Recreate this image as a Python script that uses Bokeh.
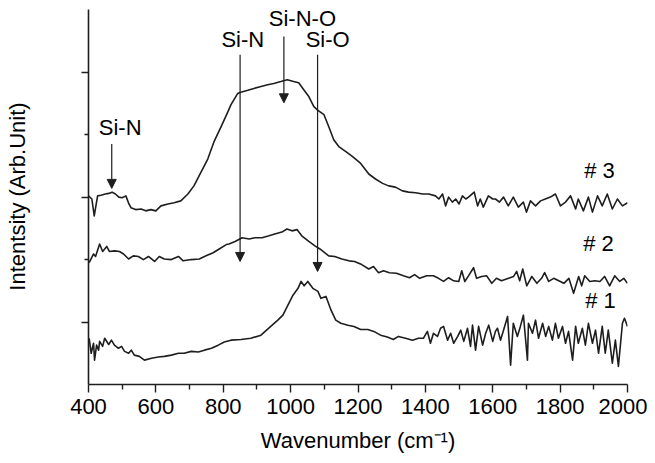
from bokeh.plotting import figure
from bokeh.models import Range1d, FixedTicker, ColumnDataSource, Arrow, NormalHead, CustomJSTickFormatter
from bokeh.core.properties import value
from bokeh.embed import file_html
from bokeh.resources import INLINE

# ---- data ----
x3 = [400,410,417,427,437,450,460,470,480,490,500,511,520,526,540,556,570,585,600,615,
      636,654,674,695,713,734,754,772,793,814,823,843,852,873,891,912,932,950,971,990,
      1009,1024,1039,1054,1069,1081,1099,1113,1128,1143,1164,1184,1208,1232,1252,1273,1291,1311,1332,1350,
      1371,1392,1410,1430,1440,1451,1460,1469,1480,1490,1500,1510,1520,1528,1545,1555,1563,1572,1587,1600,
      1608,1620,1632,1646,1661,1676,1691,1700,1712,1727,1742,1756,1771,1786,1801,1816,1831,1846,1854,1869,
      1884,1896,1911,1925,1940,1955,1970,1985,2000]
y3 = [3.02,2.97,2.70,3.02,3.03,3.05,3.06,3.08,3.05,3.00,2.99,3.02,2.89,2.83,2.80,2.81,2.78,2.80,2.78,2.86,
      2.89,2.91,2.94,3.05,3.18,3.40,3.61,3.88,4.12,4.37,4.48,4.66,4.68,4.71,4.74,4.77,4.80,4.82,4.85,4.88,
      4.85,4.83,4.72,4.61,4.45,4.39,4.32,4.13,3.92,3.81,3.73,3.65,3.54,3.37,3.29,3.22,3.18,3.16,3.10,3.08,
      3.07,3.05,3.05,3.02,2.97,3.05,2.86,3.00,2.92,2.97,2.89,3.02,2.97,3.00,3.08,2.86,2.97,2.84,3.02,2.97,
      2.97,2.92,3.00,2.86,3.00,2.84,2.92,2.76,2.94,2.86,2.94,2.97,3.00,3.05,2.86,2.92,3.02,2.81,2.97,2.78,
      3.00,2.76,3.02,2.86,3.05,2.81,2.97,2.86,2.91]

x2 = [402,415,421,433,442,454,462,477,492,504,519,533,548,563,578,596,610,625,646,667,
      681,705,729,749,770,788,809,817,835,856,877,894,915,936,953,974,989,1004,1019,1033,
      1054,1072,1087,1113,1131,1152,1173,1190,1211,1232,1246,1261,1276,1293,1314,1335,1353,1368,1383,1404,
      1424,1439,1454,1469,1484,1499,1508,1517,1528,1543,1552,1567,1582,1597,1611,1626,1647,1662,1671,1680,
      1689,1701,1716,1731,1745,1754,1766,1781,1796,1811,1826,1840,1855,1864,1873,1888,1903,1918,1932,1947,
      1962,1977,1989,2000]
y2 = [1.95,2.09,2.05,2.25,2.13,2.21,2.13,2.14,2.13,2.09,2.01,2.06,2.05,2.00,2.05,1.97,2.05,2.01,2.00,2.05,
      1.98,2.00,2.01,2.06,2.11,2.17,2.24,2.25,2.29,2.35,2.33,2.35,2.35,2.38,2.41,2.44,2.49,2.46,2.48,2.38,
      2.29,2.22,2.17,2.06,2.05,2.01,1.98,1.97,1.92,1.85,1.89,1.79,1.82,1.79,1.78,1.74,1.71,1.76,1.70,1.74,
      1.74,1.70,1.65,1.71,1.66,1.65,1.82,1.65,1.74,1.87,1.70,1.73,1.74,1.62,1.70,1.66,1.70,1.73,1.81,1.66,
      1.85,1.58,1.73,1.62,1.70,1.79,1.65,1.70,1.66,1.62,1.70,1.46,1.73,1.58,1.74,1.65,1.66,1.65,1.73,1.58,
      1.74,1.65,1.70,1.62]

x1 = [402,408,415,418,424,430,433,442,448,460,468,477,489,498,507,519,527,536,551,566,
      587,607,625,646,667,684,705,726,744,765,785,803,823,853,882,912,941,962,977,992,
      1007,1022,1031,1040,1051,1066,1081,1090,1105,1120,1134,1149,1170,1188,1208,1229,1247,1267,1287,1305,
      1320,1341,1362,1379,1394,1406,1415,1424,1436,1445,1454,1466,1475,1484,1496,1505,1514,1525,1534,1540,
      1549,1558,1570,1579,1588,1600,1608,1614,1623,1632,1644,1653,1661,1673,1682,1691,1703,1706,1718,1727,
      1736,1748,1757,1766,1777,1786,1795,1807,1816,1825,1837,1846,1854,1866,1875,1884,1896,1905,1914,1925,
      1934,1943,1955,1964,1973,1985,1991,2000]
y1 = [0.74,0.50,0.66,0.39,0.63,0.55,0.69,0.61,0.74,0.64,0.71,0.63,0.58,0.61,0.53,0.50,0.55,0.47,0.45,0.39,
      0.42,0.44,0.45,0.47,0.50,0.50,0.53,0.52,0.55,0.58,0.63,0.68,0.71,0.72,0.74,0.79,0.93,1.03,1.11,1.27,
      1.43,1.54,1.65,1.58,1.65,1.54,1.49,1.38,1.41,1.19,1.03,0.98,0.95,0.93,0.88,0.88,0.85,0.79,0.76,0.72,
      0.77,0.74,0.71,0.74,0.74,0.85,0.66,0.82,0.77,0.90,0.93,0.71,0.82,0.66,0.77,0.87,0.69,0.90,0.61,0.95,
      0.55,0.93,0.63,0.82,0.95,0.69,0.85,0.90,0.71,0.87,1.09,0.31,0.98,0.77,0.93,1.11,0.39,0.98,0.82,1.03,
      0.74,0.98,0.77,0.93,0.71,0.98,0.74,0.93,0.66,0.85,0.39,0.93,0.66,0.90,0.63,0.98,0.66,0.87,0.50,0.93,
      0.50,0.87,0.34,0.71,0.29,0.98,1.06,0.93]

# peak annotations
ann_text = ["Si-N", "Si-N", "Si-N-O", "Si-O"]
ann_tx = [494, 858, 1035, 1110]
ann_ty = [4.11, 5.52, 5.86, 5.52]
arrow_x = [469, 850, 980, 1080]
arrow_y0 = [3.85, 5.28, 5.57, 5.28]
arrow_y1 = [3.14, 1.97, 4.51, 1.81]

# sample labels
sample_text = ["# 3", "# 2", "# 1"]
sample_x = [1917, 1914, 1920]
sample_y = [3.42, 2.26, 1.34]

x_ticks = [400, 600, 800, 1000, 1200, 1400, 1600, 1800, 2000]
x_minor = [500, 700, 900, 1100, 1300, 1500, 1700, 1900]
y_ticks = [1, 3, 5]
y_minor = [2, 4]

FONT = "Liberation Sans"
INK = "#1e1e1e"
FS = "22px"

p = figure(width=647, height=455, output_backend="svg", toolbar_location=None,
           x_range=Range1d(400, 2000), y_range=Range1d(0, 6.02),
           min_border_left=88, min_border_right=20, min_border_top=8, min_border_bottom=68)
p.outline_line_color = None
p.grid.visible = False

for xs, ys in ((x3, y3), (x2, y2), (x1, y1)):
    p.line(xs, ys, line_color=INK, line_width=1.6, line_join="round")

# arrows
arrow_src = ColumnDataSource(dict(x=arrow_x, y0=arrow_y0, y1=arrow_y1))
p.add_layout(Arrow(end=NormalHead(size=9, fill_color=INK, line_color=INK, line_width=1),
                   x_start="x", y_start="y0", x_end="x", y_end="y1", source=arrow_src,
                   line_color=INK, line_width=1.2))

p.text(ann_tx, ann_ty, text=ann_text, text_align="center", text_baseline="middle",
       text_font=value(FONT), text_font_size=FS, text_color="black")
p.text(sample_x, sample_y, text=sample_text, text_align="center", text_baseline="middle",
       text_font=value(FONT), text_font_size=FS, text_color="black")

xa = p.xaxis[0]
xa.ticker = FixedTicker(ticks=x_ticks, minor_ticks=x_minor)
xa.axis_line_width = 1.6
xa.axis_line_color = INK
xa.major_tick_line_color = INK
xa.minor_tick_line_color = INK
xa.major_tick_line_width = 1.4
xa.minor_tick_line_width = 1.4
xa.major_tick_in = 0
xa.major_tick_out = 8
xa.minor_tick_in = 0
xa.minor_tick_out = 5
xa.major_label_text_font = FONT
xa.major_label_text_font_size = FS
xa.major_label_text_color = "black"
xa.major_label_standoff = 6
xa.axis_label = "Wavenumber (cm\u207b\u00b9)"
xa.axis_label_text_font = FONT
xa.axis_label_text_font_size = FS
xa.axis_label_text_font_style = "normal"
xa.axis_label_text_color = "black"
xa.axis_label_standoff = 11

ya = p.yaxis[0]
ya.ticker = FixedTicker(ticks=y_ticks, minor_ticks=y_minor)
ya.bounds = (0, 6)
ya.axis_line_width = 1.6
ya.axis_line_color = INK
ya.major_tick_line_color = INK
ya.minor_tick_line_color = INK
ya.major_tick_line_width = 1.4
ya.minor_tick_line_width = 1.4
ya.major_tick_in = 0
ya.major_tick_out = 7
ya.minor_tick_in = 0
ya.minor_tick_out = 4
ya.formatter = CustomJSTickFormatter(code="return ''")
ya.major_label_standoff = 0
ya.axis_label = "Intentsity (Arb.Unit)"
ya.axis_label_text_font = FONT
ya.axis_label_text_font_size = FS
ya.axis_label_text_font_style = "normal"
ya.axis_label_text_color = "black"
ya.axis_label_standoff = 52

open("out.html", "w").write(file_html(p, INLINE))
